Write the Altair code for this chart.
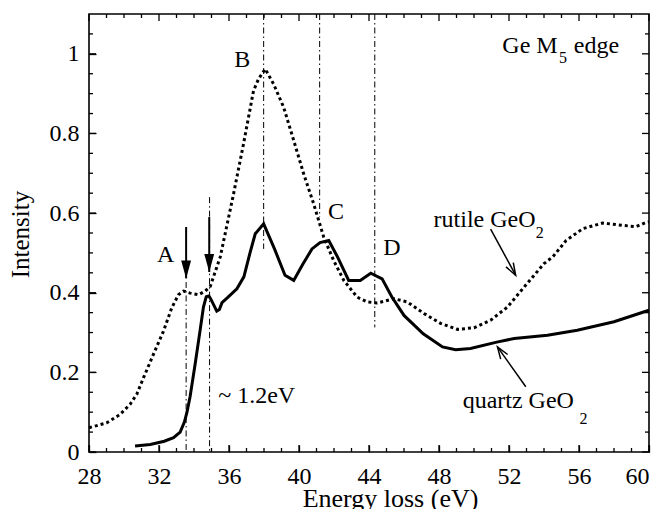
import altair as alt
import pandas as pd

# ---- data ----
quartz_E = [30.63, 31.5, 32.3, 32.83, 33.21, 33.45, 33.6, 33.78, 34.07, 34.35, 34.54, 34.7, 34.85,
            34.95, 35.3, 35.45, 35.6, 35.9, 36.45, 36.85, 37.2, 37.5, 37.98, 38.6, 39.2, 39.7,
            40.2, 40.74, 41.2, 41.7, 42.2, 42.84, 43.5, 44.1, 44.75, 45.3, 46.0, 47.1, 48.2,
            48.95, 49.8, 51.3, 52.3, 54.2, 55.9, 58.0, 60.0]
quartz_I = [0.015, 0.019, 0.027, 0.036, 0.05, 0.075, 0.1, 0.14, 0.222, 0.306, 0.364, 0.39, 0.392,
            0.385, 0.354, 0.358, 0.375, 0.387, 0.41, 0.44, 0.5, 0.548, 0.573, 0.51, 0.444, 0.431,
            0.47, 0.51, 0.526, 0.531, 0.49, 0.431, 0.431, 0.449, 0.435, 0.39, 0.343, 0.297, 0.264,
            0.257, 0.26, 0.276, 0.285, 0.293, 0.306, 0.327, 0.356]

rutile_E = [28.0, 29.0, 29.77, 30.35, 30.73, 31.11, 31.68, 32.25, 32.73, 33.11, 33.4, 33.78, 34.26,
            34.64, 34.93, 35.5, 36.26, 36.83, 37.4, 37.69, 38.07, 38.55, 39.12, 39.7, 40.27, 40.84,
            41.41, 41.98, 42.56, 43.32, 43.9, 44.47, 45.42, 46.18, 47.14, 48.09, 49.05, 50.0, 50.95,
            51.91, 52.86, 54.0, 54.5, 55.26, 56.22, 57.36, 58.51, 59.27, 59.85, 60.0]
rutile_I = [0.061, 0.073, 0.094, 0.12, 0.145, 0.186, 0.245, 0.303, 0.362, 0.395, 0.404, 0.399, 0.395,
            0.404, 0.416, 0.49, 0.648, 0.774, 0.907, 0.937, 0.962, 0.924, 0.866, 0.782, 0.698, 0.623,
            0.54, 0.481, 0.431, 0.389, 0.377, 0.374, 0.385, 0.377, 0.348, 0.323, 0.308, 0.312, 0.331,
            0.364, 0.414, 0.473, 0.49, 0.531, 0.561, 0.575, 0.569, 0.566, 0.577, 0.578]

vline_E = [33.55, 34.89, 37.98, 41.18, 44.33]
vline_top = [0.427, 0.64, 1.1, 1.1, 1.1]
vline_bot = [0.0, 0.0, 0.51, 0.59, 0.313]

arrow_E = [33.55, 34.87]
arrow_tail = [0.565, 0.59]
arrow_tip = [0.436, 0.452]

label_text = ["A", "B", "C", "D", "~ 1.2eV", "Ge M", "edge", "rutile GeO", "quartz GeO"]
label_E = [31.89, 36.30, 41.66, 44.81, 35.38, 51.62, 55.70, 47.69, 49.35]
label_I = [0.477, 0.967, 0.586, 0.494, 0.123, 1.003, 1.003, 0.565, 0.111]

sub_text = ["5", "2", "2"]
sub_E = [54.85, 53.53, 56.03]
sub_I = [0.978, 0.537, 0.070]

ptr_E0 = [50.95, 52.96]
ptr_I0 = [0.56, 0.164]
ptr_E1 = [52.38, 51.34]
ptr_I1 = [0.444, 0.264]
ptr_angle = [150, 326]

x_major = [28, 32, 36, 40, 44, 48, 52, 56, 60]
x_minor = [29, 30, 31, 33, 34, 35, 37, 38, 39, 41, 42, 43, 45, 46, 47, 49, 50, 51, 53, 54, 55,
           57, 58, 59]
y_major = [0, 0.2, 0.4, 0.6, 0.8, 1.0]
y_minor = [0.05, 0.1, 0.15, 0.25, 0.3, 0.35, 0.45, 0.5, 0.55, 0.65, 0.7, 0.75, 0.85, 0.9, 0.95,
           1.05]

# ---- chart ----
W, H = 560, 438
X0, X1, Y0, Y1 = 28, 60, 0, 1.1
FONT = "Liberation Serif"
MAJ, MIN = 7, 4  # tick lengths in pixels
xs = alt.Scale(domain=[X0, X1], nice=False, zero=False)
ys = alt.Scale(domain=[Y0, Y1], nice=False, zero=False)

quartz = pd.DataFrame({"E": quartz_E, "I": quartz_I})
rutile = pd.DataFrame({"E": rutile_E, "I": rutile_I})
vlines = pd.DataFrame({"E": vline_E, "top": vline_top, "bot": vline_bot})
arrows = pd.DataFrame({"E": arrow_E, "tail": arrow_tail, "tip": arrow_tip})
labels = pd.DataFrame({"t": label_text, "E": label_E, "I": label_I})
subs = pd.DataFrame({"t": sub_text, "E": sub_E, "I": sub_I})
ptrs = pd.DataFrame({"E0": ptr_E0, "I0": ptr_I0, "E1": ptr_E1, "I1": ptr_I1, "a": ptr_angle})

# main axes pulled MAJ px into the plot so that their ticks point inward
x_lab = alt.Axis(orient="bottom", offset=-MAJ, values=x_major, ticks=True, tickSize=MAJ,
                 tickWidth=1.3, tickColor="black", domain=False, grid=False,
                 labelPadding=12, labelFlush=False, labelOverlap=False, format="d",
                 labelAlign={"condition": {"test": f"datum.value >= {X1}", "value": "right"},
                             "value": "center"},
                 title="Energy loss (eV)", titleX=301, titleY=54 + MAJ, titleBaseline="alphabetic",
                 titleAlign="center", titleFontSize=26)
y_lab = alt.Axis(orient="left", offset=-MAJ, values=y_major, ticks=True, tickSize=MAJ,
                 tickWidth=1.3, tickColor="black", domain=False, grid=False,
                 labelPadding=10, labelFlush=False, labelOverlap=False, format="~g",
                 title="Intensity", titleX=-61 - MAJ, titleY=220, titleBaseline="alphabetic",
                 titleAlign="center", titleAngle=270, titleFontSize=25)


def X(field):
    return alt.X(field, scale=xs, axis=x_lab)


def Y(field):
    return alt.Y(field, scale=ys, axis=y_lab)


# inward ticks on all four sides of the frame (tick length converted to data units)
xt = pd.DataFrame({"v": x_major + x_minor,
                   "len": [MAJ] * len(x_major) + [MIN] * len(x_minor)})
yt = pd.DataFrame({"v": y_major + y_minor,
                   "len": [MAJ] * len(y_major) + [MIN] * len(y_minor)})
dy = (Y1 - Y0) / H
dx = (X1 - X0) / W

x_tick_rules = alt.Chart(xt).transform_calculate(
    b0=f"{Y0}", b1=f"{Y0} + datum.len * {dy}", t0=f"{Y1}", t1=f"{Y1} - datum.len * {dy}"
)
xb = x_tick_rules.mark_rule(color="black", strokeWidth=1.3).encode(x=X("v:Q"), y=Y("b0:Q"), y2="b1:Q")
xtop = x_tick_rules.mark_rule(color="black", strokeWidth=1.3).encode(x=X("v:Q"), y=Y("t0:Q"), y2="t1:Q")

y_tick_rules = alt.Chart(yt).transform_calculate(
    l0=f"{X0}", l1=f"{X0} + datum.len * {dx}", r0=f"{X1}", r1=f"{X1} - datum.len * {dx}"
)
yl = y_tick_rules.mark_rule(color="black", strokeWidth=1.3).encode(y=Y("v:Q"), x=X("l0:Q"), x2="l1:Q")
yr = y_tick_rules.mark_rule(color="black", strokeWidth=1.3).encode(y=Y("v:Q"), x=X("r0:Q"), x2="r1:Q")

quartz_line = alt.Chart(quartz).mark_line(color="black", strokeWidth=3, strokeJoin="miter").encode(
    x=X("E:Q"), y=Y("I:Q"),
)

rutile_line = alt.Chart(rutile).mark_line(color="black", strokeWidth=3, strokeDash=[3, 3],
                                           strokeCap="butt").encode(
    x=X("E:Q"), y=Y("I:Q"),
)

vrules = alt.Chart(vlines).mark_rule(color="black", strokeWidth=1,
                                     strokeDash=[6, 3, 1.5, 3]).encode(
    x=X("E:Q"), y=Y("top:Q"), y2="bot:Q",
)

arrow_rules = alt.Chart(arrows).mark_rule(color="black", strokeWidth=2).encode(
    x=X("E:Q"), y=Y("tail:Q"), y2="tip:Q",
)

arrow_heads = alt.Chart(arrows).mark_point(shape="M-0.55,-2L0.55,-2L0,0Z", size=324, filled=True,
                                           color="black", opacity=1, strokeWidth=0).encode(
    x=X("E:Q"), y=Y("tip:Q"),
)

texts = alt.Chart(labels).mark_text(align="left", baseline="alphabetic", font=FONT, fontSize=24,
                                    color="black").encode(
    x=X("E:Q"), y=Y("I:Q"), text="t:N",
)

sub_texts = alt.Chart(subs).mark_text(align="left", baseline="alphabetic", font=FONT, fontSize=16,
                                      color="black").encode(
    x=X("E:Q"), y=Y("I:Q"), text="t:N",
)

ptr_lines = alt.Chart(ptrs).mark_rule(color="black", strokeWidth=1.5).encode(
    x=X("E0:Q"), y=Y("I0:Q"), x2="E1:Q", y2="I1:Q",
)

ptr_heads = alt.Chart(ptrs).mark_point(shape="M-0.35,1L0,0L0.35,1", size=576, filled=False,
                                       color="black", opacity=1, strokeWidth=1.5).encode(
    x=X("E1:Q"), y=Y("I1:Q"), angle=alt.Angle("a:Q", scale=None),
)

chart = alt.layer(
    xb, xtop, yl, yr, quartz_line, rutile_line, vrules, arrow_rules, arrow_heads, ptr_lines,
    ptr_heads, texts, sub_texts
).properties(
    width=W, height=H,
    autosize=alt.AutoSizeParams(type="none"),
    padding={"left": 81, "top": 6, "right": 7, "bottom": 57},
).configure_view(
    stroke="black", strokeWidth=1.6
).configure_axis(
    labelFont=FONT, titleFont=FONT, labelFontSize=24, labelColor="black", titleColor="black",
    titleFontWeight="normal", tickColor="black",
)

chart.save("out.html", embed_options={"renderer": "svg", "actions": False})
